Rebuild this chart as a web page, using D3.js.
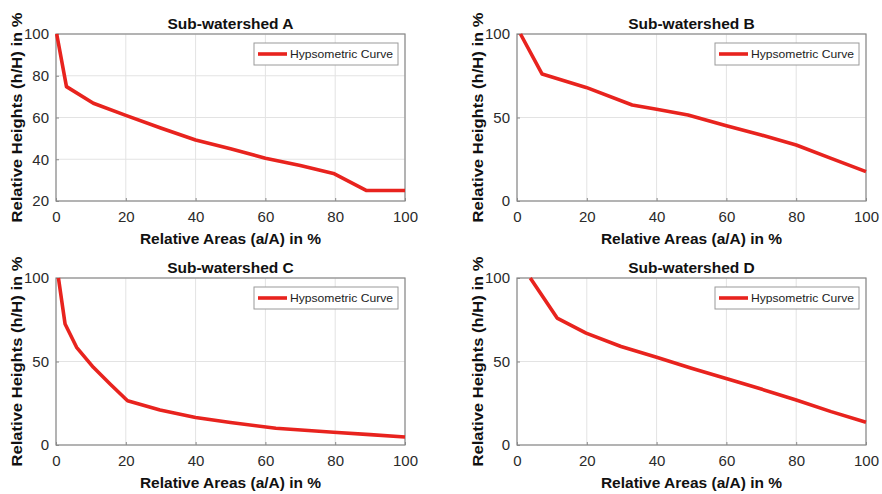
<!DOCTYPE html>
<html><head><meta charset="utf-8">
<script src="https://cdn.jsdelivr.net/npm/d3@7"></script>
<style>body{margin:0;background:#fff}svg{display:block}</style>
</head><body>
<svg id="c" width="882" height="494"></svg>
<script>
const titles = ["Sub-watershed A","Sub-watershed B","Sub-watershed C","Sub-watershed D"];
const legendLabel = "Hypsometric Curve";
const xLabel = "Relative Areas (a/A) in %";
const yLabel = "Relative Heights (h/H) in %";
const xTicks = [0,20,40,60,80,100];
const yTicksA = [20,40,60,80,100];
const yTicksBCD = [0,50,100];

const areaA = [0.2,3,10.7,20,30,40,50,60,70,79.5,89,100];
const heightA = [100,74.8,66.8,61,55,49.2,45,40.5,37,33.2,25,25];
const areaB = [1,7.2,19.8,33,40,49,60,70,80,90,100];
const heightB = [100,76,68,57.5,55,51.5,45,39.5,33.5,25.5,17.6];
const areaC = [0.7,2.6,5.9,10.7,15.5,20.5,29.8,40,50,63,79.5,90,100];
const heightC = [100,72.5,58.5,46.5,36.5,26.5,21,16.5,13.5,10,7.6,6.2,4.8];
const areaD = [3.8,11.5,19.8,29.8,40,50,60.4,70,80,90,100];
const heightD = [100,76,67,59,52.5,46,39.5,33.5,27,20,13.6];

const panels = [
  {title:titles[0], xs:areaA, ys:heightA, yDom:[20,100], yTicks:yTicksA, x0:56, x1:405, y0:34, y1:201},
  {title:titles[1], xs:areaB, ys:heightB, yDom:[0,100], yTicks:yTicksBCD, x0:517, x1:866, y0:34, y1:201},
  {title:titles[2], xs:areaC, ys:heightC, yDom:[0,100], yTicks:yTicksBCD, x0:56, x1:405, y0:278, y1:445},
  {title:titles[3], xs:areaD, ys:heightD, yDom:[0,100], yTicks:yTicksBCD, x0:517, x1:866, y0:278, y1:445}
];

const svg = d3.select("#c");
const font = "'Liberation Sans', Arial, Helvetica, sans-serif";
const red = "#e8231e";

panels.forEach(p => {
  const x = d3.scaleLinear().domain([0,100]).range([p.x0,p.x1]);
  const y = d3.scaleLinear().domain(p.yDom).range([p.y1,p.y0]);
  const g = svg.append("g");
  g.selectAll(".gx").data(xTicks).enter().append("line")
    .attr("x1",d=>x(d)).attr("x2",d=>x(d)).attr("y1",p.y0).attr("y2",p.y1)
    .attr("stroke","#e3e3e3").attr("stroke-width",1);
  g.selectAll(".gy").data(p.yTicks).enter().append("line")
    .attr("x1",p.x0).attr("x2",p.x1).attr("y1",d=>y(d)).attr("y2",d=>y(d))
    .attr("stroke","#e3e3e3").attr("stroke-width",1);
  const xa = g.append("g").attr("transform",`translate(0,${p.y1})`)
    .call(d3.axisBottom(x).tickValues(xTicks).tickSizeInner(-3).tickSizeOuter(0).tickPadding(10));
  const ya = g.append("g").attr("transform",`translate(${p.x0},0)`)
    .call(d3.axisLeft(y).tickValues(p.yTicks).tickSizeInner(-3).tickSizeOuter(0).tickPadding(7));
  [xa,ya].forEach(a=>{
    a.select(".domain").remove();
    a.selectAll(".tick line").attr("stroke","#8a8a8a");
    a.selectAll(".tick text").attr("font-family",font).attr("font-size","15px").attr("fill","#2a2a2a");
  });
  g.append("rect").attr("x",p.x0).attr("y",p.y0).attr("width",p.x1-p.x0).attr("height",p.y1-p.y0)
    .attr("fill","none").attr("stroke","#8a8a8a").attr("stroke-width",1.2);
  const data = p.xs.map((v,i)=>[v,p.ys[i]]);
  g.append("path").datum(data)
    .attr("d", d3.line().x(d=>x(d[0])).y(d=>y(d[1])))
    .attr("fill","none").attr("stroke",red).attr("stroke-width",3.6).attr("stroke-linejoin","round");
  g.append("text").attr("x",(p.x0+p.x1)/2).attr("y",p.y0-5)
    .attr("text-anchor","middle").attr("font-family",font).attr("font-weight","bold")
    .attr("font-size","15.5px").attr("fill","#111").text(p.title);
  g.append("text").attr("x",(p.x0+p.x1)/2).attr("y",p.y1+43)
    .attr("text-anchor","middle").attr("font-family",font).attr("font-weight","bold")
    .attr("font-size","15.5px").attr("fill","#111").text(xLabel);
  const ylx = p.x0 - 34;
  g.append("text").attr("transform",`translate(${ylx},${(p.y0+p.y1)/2}) rotate(-90)`)
    .attr("text-anchor","middle").attr("font-family",font).attr("font-weight","bold")
    .attr("font-size","15.5px").attr("fill","#111")
    .attr("textLength",210).attr("lengthAdjust","spacingAndGlyphs").text(yLabel);
  const lx = p.x1-151, ly = p.y0+9, lw = 144, lh = 22;
  g.append("rect").attr("x",lx).attr("y",ly).attr("width",lw).attr("height",lh)
    .attr("fill","#fff").attr("stroke","#9a9a9a").attr("stroke-width",1);
  g.append("line").attr("x1",lx+4).attr("x2",lx+33).attr("y1",ly+lh/2).attr("y2",ly+lh/2)
    .attr("stroke",red).attr("stroke-width",3.6);
  g.append("text").attr("x",lx+36).attr("y",ly+lh/2+4).attr("font-family",font)
    .attr("font-size","11.5px").attr("fill","#222").attr("textLength",103).attr("lengthAdjust","spacingAndGlyphs").text(legendLabel);
});
</script>
</body></html>
